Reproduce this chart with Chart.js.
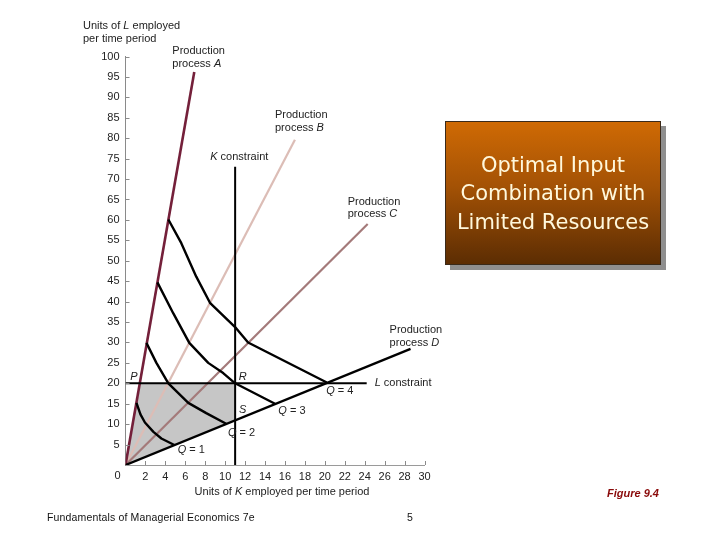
<!DOCTYPE html>
<html>
<head>
<meta charset="utf-8">
<script src="https://cdn.jsdelivr.net/npm/chart.js@4/dist/chart.umd.min.js"></script>
<style>
  html, body { margin: 0; padding: 0; background: #ffffff; }
  #wrap { position: relative; width: 720px; height: 540px; overflow: hidden; background: #fff; }
  #c { position: absolute; left: 0; top: 0; }
  #titlebox {
    position: absolute; left: 445px; top: 121px; width: 214px; height: 142px;
    border: 1px solid #3a2a1a;
    background: linear-gradient(to bottom, #cf6a04 0%, #a45205 45%, #5c2d03 100%);
    box-shadow: 5px 5px 0 #8f8f8f;
    color: #fff8dc; font-family: "DejaVu Sans", sans-serif; font-size: 21px;
    line-height: 28.5px; text-align: center;
    display: flex; align-items: center; justify-content: center;
  }
  #titlebox div { margin-top: 1px; }
  .foot { position: absolute; font-family: "Liberation Sans", Arial, sans-serif; font-size: 10.5px; color: #111; }
  #fig { position: absolute; left: 607px; top: 487px; font-family: "Liberation Sans", Arial, sans-serif;
         font-size: 11px; font-weight: bold; font-style: italic; color: #8a0a0a; }
</style>
</head>
<body>
<div id="wrap">
  <canvas id="c" width="720" height="540"></canvas>
  <div id="titlebox"><div>Optimal Input<br>Combination with<br>Limited Resources</div></div>
  <div id="fig">Figure 9.4</div>
  <div class="foot" style="left:47px; top:511px; letter-spacing:0.15px;">Fundamentals of Managerial Economics 7e</div>
  <div class="foot" style="left:407px; top:511px;">5</div>
</div>
<script>
// ---- data (K, L) ----
const xTicks = [0,2,4,6,8,10,12,14,16,18,20,22,24,26,28,30];
const yTicks = [0,5,10,15,20,25,30,35,40,45,50,55,60,65,70,75,80,85,90,95,100];
const processA = [[0,0],[6.9,96.2]];
const processB = [[0,0],[17.0,79.6]];
const processC = [[0,0],[24.3,59.0]];
const processD = [[0,0],[28.6,28.4]];
const kConstraint = [[11,0],[11,73]];
const lConstraint = [[0,20],[24.2,20]];
const isoQ1 = [[1.1,15.2],[1.5,12.4],[1.95,10.4],[2.8,8.1],[3.6,6.5],[4.9,4.9]];
const isoQ2 = [[2.1,29.9],[3.1,25.0],[4.3,20.0],[6.3,15.2],[8.1,12.7],[10.1,10.1]];
const isoQ3 = [[3.2,44.7],[4.8,37.1],[6.4,29.9],[8.3,25.0],[9.8,22.5],[11,20],[15,15]];
const isoQ4 = [[4.3,60.1],[5.6,54.3],[7.1,46.1],[8.5,39.6],[11.1,33.5],[12.3,30.0],[20.2,20.2]];
const feasibleRegion = [[0,0],[1.43,20],[11,20],[11,10.9],[0,0]];

const toXY = arr => arr.map(p => ({x: p[0], y: p[1]}));

// text annotations: [parts, K, L, align]
const annotations = [
  [[["Production",0]], 4.7, 101.3, 'left'],
  [[["process ",0],["A",1]], 4.7, 98.2, 'left'],
  [[["Production",0]], 15.0, 85.7, 'left'],
  [[["process ",0],["B",1]], 15.0, 82.5, 'left'],
  [[["K",1],[" constraint",0]], 8.5, 75.4, 'left'],
  [[["Production",0]], 22.3, 64.4, 'left'],
  [[["process ",0],["C",1]], 22.3, 61.4, 'left'],
  [[["Production",0]], 26.5, 33.0, 'left'],
  [[["process ",0],["D",1]], 26.5, 29.9, 'left'],
  [[["L",1],[" constraint",0]], 25.0, 20.1, 'left'],
  [[["P",1]], 0.85, 21.6, 'center'],
  [[["R",1]], 11.75, 21.6, 'center'],
  [[["S",1]], 11.75, 13.6, 'center'],
  [[["Q",1],[" = 1",0]], 6.6, 3.8, 'center'],
  [[["Q",1],[" = 2",0]], 11.65, 7.8, 'center'],
  [[["Q",1],[" = 3",0]], 16.7, 13.2, 'center'],
  [[["Q",1],[" = 4",0]], 21.5, 18.2, 'center']
];

const FONT = '"Liberation Sans", Arial, sans-serif';
function drawRich(ctx, parts, x, y, align) {
  let total = 0;
  const widths = parts.map(([t, it]) => {
    ctx.font = (it ? 'italic ' : '') + '11px ' + FONT;
    const w = ctx.measureText(t).width; total += w; return w;
  });
  let cx = align === 'center' ? x - total / 2 : x;
  ctx.textAlign = 'left'; ctx.textBaseline = 'middle';
  parts.forEach(([t, it], i) => {
    ctx.font = (it ? 'italic ' : '') + '11px ' + FONT;
    ctx.fillText(t, cx, y); cx += widths[i];
  });
}

const overlay = {
  id: 'overlay',
  afterDraw(chart) {
    const ctx = chart.ctx, xs = chart.scales.x, ys = chart.scales.y;
    const x0 = xs.getPixelForValue(0), y0 = ys.getPixelForValue(0);
    ctx.save();
    // inside tick marks
    ctx.strokeStyle = '#8a8a8a'; ctx.lineWidth = 1;
    xTicks.forEach(v => { if (v === 0) return; const px = Math.round(xs.getPixelForValue(v)) + 0.5;
      ctx.beginPath(); ctx.moveTo(px, y0); ctx.lineTo(px, y0 - 4); ctx.stroke(); });
    yTicks.forEach(v => { if (v === 0) return; const py = Math.round(ys.getPixelForValue(v)) + 0.5;
      ctx.beginPath(); ctx.moveTo(x0, py); ctx.lineTo(x0 + 4, py); ctx.stroke(); });
    ctx.fillStyle = '#222';
    // origin label
    ctx.font = '11px ' + FONT; ctx.textAlign = 'center'; ctx.textBaseline = 'middle';
    ctx.fillText('0', x0 - 8, y0 + 10.5);
    // axis titles
    drawRich(ctx, [["Units of ",0],["L",1],[" employed",0]], 83, 26, 'left');
    drawRich(ctx, [["per time period",0]], 83, 39, 'left');
    drawRich(ctx, [["Units of ",0],["K",1],[" employed per time period",0]], 282, 492, 'center');
    // annotations
    annotations.forEach(([parts, k, l, align]) => {
      drawRich(ctx, parts, xs.getPixelForValue(k), ys.getPixelForValue(l), align);
    });
    ctx.restore();
  }
};

const lineDs = (data, color, width, extra) => Object.assign({
  data: toXY(data), showLine: true, borderColor: color, borderWidth: width,
  pointRadius: 0, fill: false, tension: 0, borderJoinStyle: 'round'
}, extra || {});

new Chart(document.getElementById('c'), {
  type: 'scatter',
  data: {
    datasets: [
      lineDs(isoQ1, '#000', 2.4),
      lineDs(isoQ2, '#000', 2.4),
      lineDs(isoQ3, '#000', 2.4),
      lineDs(isoQ4, '#000', 2.4),
      lineDs(kConstraint, '#000', 2),
      lineDs(lConstraint, '#000', 2),
      lineDs(processD, '#000', 2.4),
      lineDs(processA, '#74203a', 2.6),
      lineDs(processC, '#a47a7a', 2.2),
      lineDs(processB, '#dcbdb6', 2.2),
      lineDs(feasibleRegion, 'rgba(0,0,0,0)', 0, {fill: 'shape', backgroundColor: '#c6c6c6'})
    ]
  },
  options: {
    responsive: false, animation: false, devicePixelRatio: 1,
    layout: { padding: { left: 80.5, right: 295.5, top: 56.5, bottom: 50 } },
    plugins: { legend: { display: false }, tooltip: { enabled: false } },
    scales: {
      x: {
        type: 'linear', min: 0, max: 30,
        afterFit: s => { s.height = 25; },
        afterBuildTicks: s => { s.ticks = xTicks.map(v => ({value: v})); },
        ticks: { autoSkip: false, maxRotation: 0, padding: 5, color: '#222',
                 font: { family: FONT, size: 11 }, callback: v => v === 0 ? '' : String(v) },
        grid: { display: true, drawOnChartArea: false, drawTicks: false },
        border: { display: true, color: '#9a9a9a', width: 1 }
      },
      y: {
        type: 'linear', min: 0, max: 100,
        afterFit: s => { s.width = 45; },
        afterBuildTicks: s => { s.ticks = yTicks.map(v => ({value: v})); },
        ticks: { autoSkip: false, padding: 6, color: '#222',
                 font: { family: FONT, size: 11 }, callback: v => v === 0 ? '' : String(v) },
        grid: { display: true, drawOnChartArea: false, drawTicks: false },
        border: { display: true, color: '#8a8a8a', width: 1 }
      }
    }
  },
  plugins: [overlay]
});
</script>
</body>
</html>
